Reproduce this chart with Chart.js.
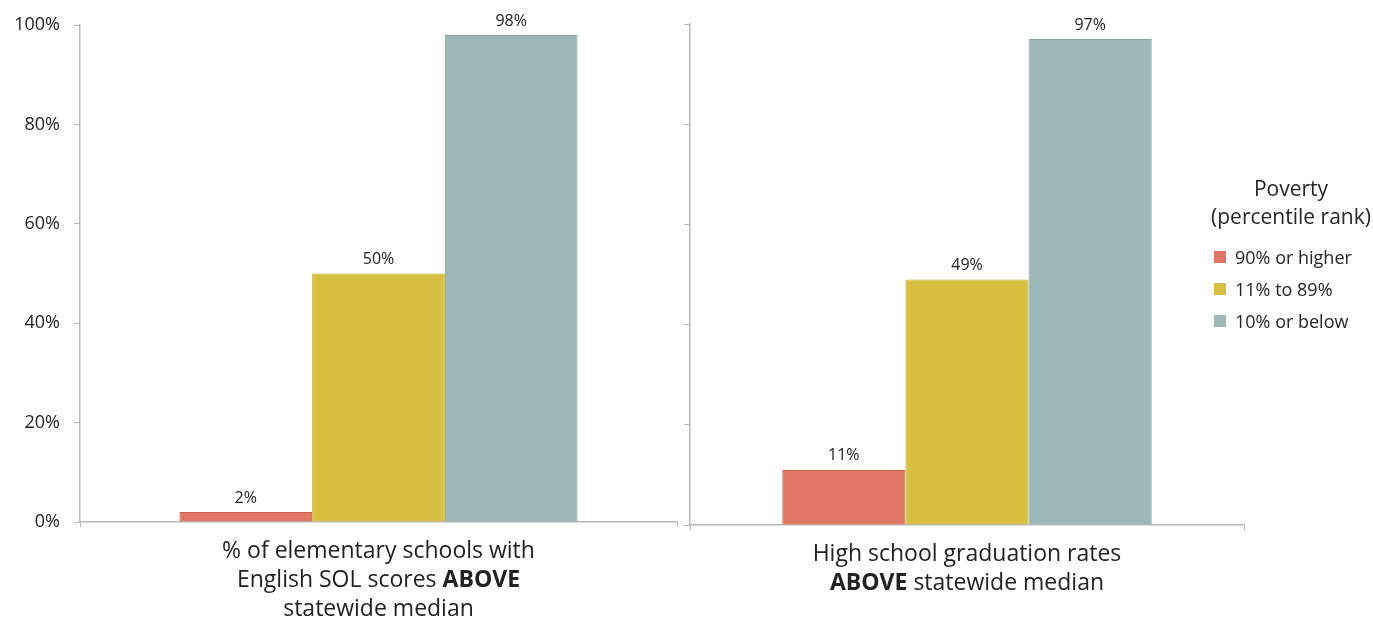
<!DOCTYPE html>
<html>
<head>
<meta charset="utf-8">
<script src="https://cdn.jsdelivr.net/npm/chart.js@4.4.1/dist/chart.umd.min.js"></script>
<style>
  body { margin: 0; background: #fff; font-family: 'Open Sans', sans-serif; color: #262626; }
  #wrap { position: relative; width: 1373px; height: 622px; overflow: hidden; }
  canvas { position: absolute; top: 0; }
  #legend { position: absolute; left: 1200px; top: 174px; width: 182px; font-size: 18px; }
  #legend .ttl { text-align: center; font-size: 21px; line-height: 28px; white-space: nowrap; }
  #legend .items { margin-top: 11px; }
  #legend .itm { position: relative; height: 32px; line-height: 32px; padding-left: 35px; white-space: nowrap; }
  #legend .box { position: absolute; left: 14px; top: 10px; width: 12px; height: 12px; }
</style>
</head>
<body>
<div id="wrap">
  <canvas id="left" width="680" height="622" style="left:0"></canvas>
  <canvas id="right" width="693" height="622" style="left:680px"></canvas>
  <div id="legend"></div>
</div>
<script>
// poverty groups (one dataset each)
var groups = ['90% or higher', '11% to 89%', '10% or below'];
var groupColors = ['#DF7563', '#D7BF41', '#9CB9B8'];
var groupBorders = ['#C9634F', '#C2AA33', '#86A3A2'];

// values in percent, one per group
var elemValues = [2, 50, 98];
var gradValues = [11, 49, 97];

// y axis
var yTickLabels = ['0%', '20%', '40%', '60%', '80%', '100%'];

// category labels, as lines of [text, bold] pieces
var elemTitle = [
    [['% of elementary schools with', false]],
    [['English SOL scores ', false], ['ABOVE', true]],
    [['statewide median', false]]
];
var gradTitle = [
    [['High school graduation rates', false]],
    [['ABOVE', true], [' statewide median', false]]
];

var legendTitle = ['Poverty', '(percentile rank)'];

var axisGrey = '#b8b8b8';
var textCol = '#222222';
var fontFam = "'Open Sans'";

// value labels above each bar
var barLabels = {
    id: 'barLabels',
    afterDatasetsDraw: function(chart) {
        var ctx = chart.ctx;
        ctx.save();
        ctx.font = '16px ' + fontFam;
        ctx.fillStyle = textCol;
        ctx.textAlign = 'center';
        ctx.textBaseline = 'bottom';
        chart.data.datasets.forEach(function(ds, i) {
            var meta = chart.getDatasetMeta(i);
            meta.data.forEach(function(bar, j) {
                ctx.fillText(ds.data[j] + '%', bar.x, bar.y - 6);
            });
        });
        ctx.restore();
    }
};

// category label under the x axis, with bold pieces
var catLabel = {
    id: 'catLabel',
    afterDraw: function(chart) {
        var lines = chart.options.plugins.catLabel.lines;
        var ctx = chart.ctx;
        var cx = chart.scales.x.getPixelForValue(0);
        var y = chart.chartArea.bottom + 29;
        ctx.save();
        ctx.fillStyle = textCol;
        ctx.textBaseline = 'middle';
        ctx.textAlign = 'left';
        lines.forEach(function(line) {
            var w = 0;
            line.forEach(function(p) {
                ctx.font = (p[1] ? 'bold ' : '') + '23px ' + fontFam;
                w += ctx.measureText(p[0]).width;
            });
            var x = cx - w / 2;
            line.forEach(function(p) {
                ctx.font = (p[1] ? 'bold ' : '') + '23px ' + fontFam;
                ctx.fillText(p[0], x, y);
                x += ctx.measureText(p[0]).width;
            });
            y += 29;
        });
        ctx.restore();
    }
};

function makeDatasets(values) {
    return groups.map(function(g, i) {
        return {
            label: g,
            data: [values[i]],
            backgroundColor: groupColors[i],
            borderColor: groupBorders[i],
            borderWidth: 1,
            categoryPercentage: 0.667,
            barPercentage: 1.0
        };
    });
}

function makeChart(id, values, title, showTicks, yWidth, padding) {
    return new Chart(document.getElementById(id), {
        type: 'bar',
        data: { labels: [''], datasets: makeDatasets(values) },
        options: {
            responsive: false,
            animation: false,
            layout: { padding: padding },
            plugins: {
                legend: { display: false },
                tooltip: { enabled: false },
                catLabel: { lines: title }
            },
            scales: {
                x: {
                    grid: { display: true, drawOnChartArea: false, drawTicks: true, tickLength: 5, color: axisGrey },
                    border: { display: true, color: axisGrey, width: 1.5 },
                    ticks: { display: false },
                    afterFit: function(s) { s.height = 0; }
                },
                y: {
                    min: 0,
                    max: 100,
                    grid: { display: true, drawOnChartArea: false, drawTicks: true, tickLength: 6, color: axisGrey },
                    border: { display: true, color: axisGrey, width: 1.5 },
                    ticks: {
                        display: showTicks,
                        stepSize: 20,
                        padding: 14,
                        color: textCol,
                        font: { family: 'Open Sans', size: 18 },
                        callback: function(v, i) { return yTickLabels[i]; }
                    },
                    afterFit: function(s) { s.width = yWidth; }
                }
            }
        },
        plugins: [barLabels, catLabel]
    });
}

makeChart('left', elemValues, elemTitle, true, 80, { top: 25, right: 3, bottom: 100, left: 0 });
makeChart('right', gradValues, gradTitle, false, 10, { top: 24, right: 129, bottom: 97, left: 0 });

// legend
var legend = document.getElementById('legend');
var html = '';
legendTitle.forEach(function(t) { html += '<div class="ttl">' + t + '</div>'; });
html += '<div class="items">';
groups.forEach(function(g, i) {
    html += '<div class="itm"><span class="box" style="background:' + groupColors[i] + '"></span>' + g + '</div>';
});
html += '</div>';
legend.innerHTML = html;
</script>
</body>
</html>
